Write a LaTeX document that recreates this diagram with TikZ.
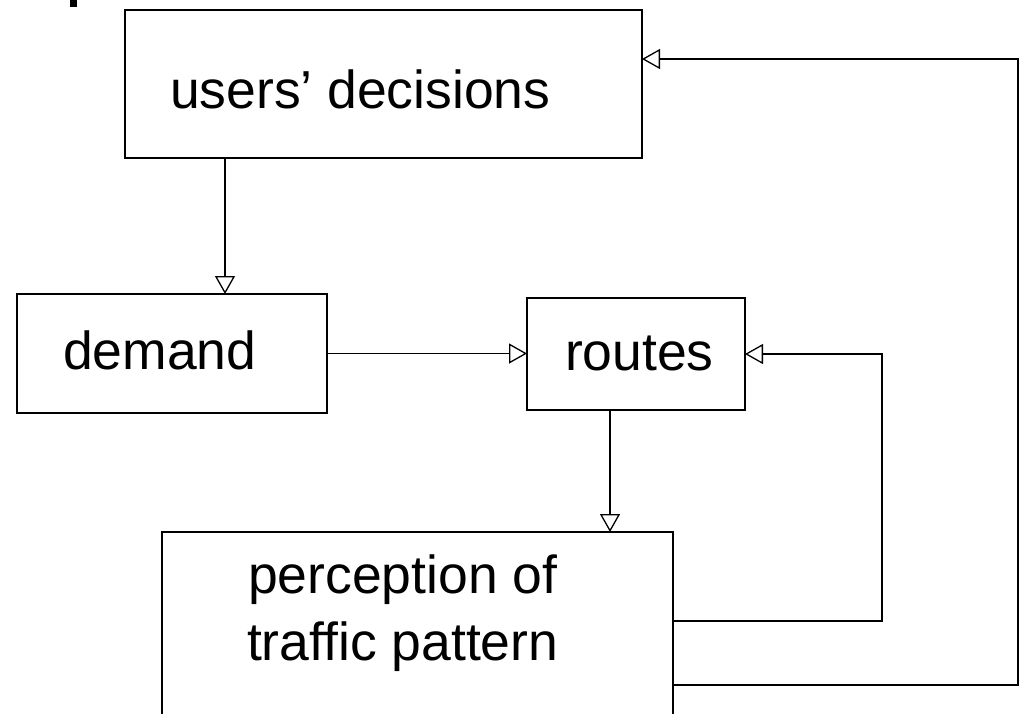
\documentclass[tikz,border=0pt]{standalone}
\usepackage{fontspec}
\setmainfont{Liberation Sans}
\usetikzlibrary{arrows.meta}
\begin{document}
\begin{tikzpicture}[x=1pt,y=-1pt,
  box/.style={draw=black,line width=1.4pt,inner sep=0pt,outer sep=0pt},
  lbl/.style={inner sep=0pt,outer sep=0pt,anchor=base west,font=\fontsize{53.5}{62}\selectfont},
  arr/.style={line width=1.3pt,-{Triangle[open,length=18pt,width=20pt,line width=1.3pt]}},
  ln/.style={line width=1.3pt}]
\useasboundingbox (0,0) rectangle (1019,713);
\clip (0,0) rectangle (1019,713);
\fill[black] (70,0) rectangle (77,7);
% boxes
\node[box,minimum width=517pt,minimum height=148pt] (users) at (383.5,84) {};
\node[box,minimum width=310pt,minimum height=119pt] (demand) at (172,353.5) {};
\node[box,minimum width=218pt,minimum height=112pt] (routes) at (636,354) {};
\node[box,minimum width=511pt,minimum height=260pt] (perc) at (417.5,662) {};
% labels
\node[lbl] (tu) at (170,108) {users’ decisions};
\node[lbl] (td) at (63,369) {demand};
\node[lbl] (tr) at (565,370) {routes};
\node[lbl] (tp1) at (248,593) {perception of};
\node[lbl] (tp2) at (247,660) {traffic pattern};
% connectors
\coordinate (a1) at (225,294);
\draw[arr] (users.south -| a1) -- (a1);
\draw[arr] (demand.east) -- (demand.east -| routes.west);
\draw[arr] ([xshift=-26pt]routes.south) -- ([xshift=-26pt]routes.south |- perc.north);
\draw[arr] ([yshift=-89pt]perc.north east) -- ++(209,0) |- (routes.east);
\draw[arr] ([yshift=-153pt]perc.north east) -- ++(345,0) |- ([yshift=25pt]users.east);
\end{tikzpicture}
\end{document}
